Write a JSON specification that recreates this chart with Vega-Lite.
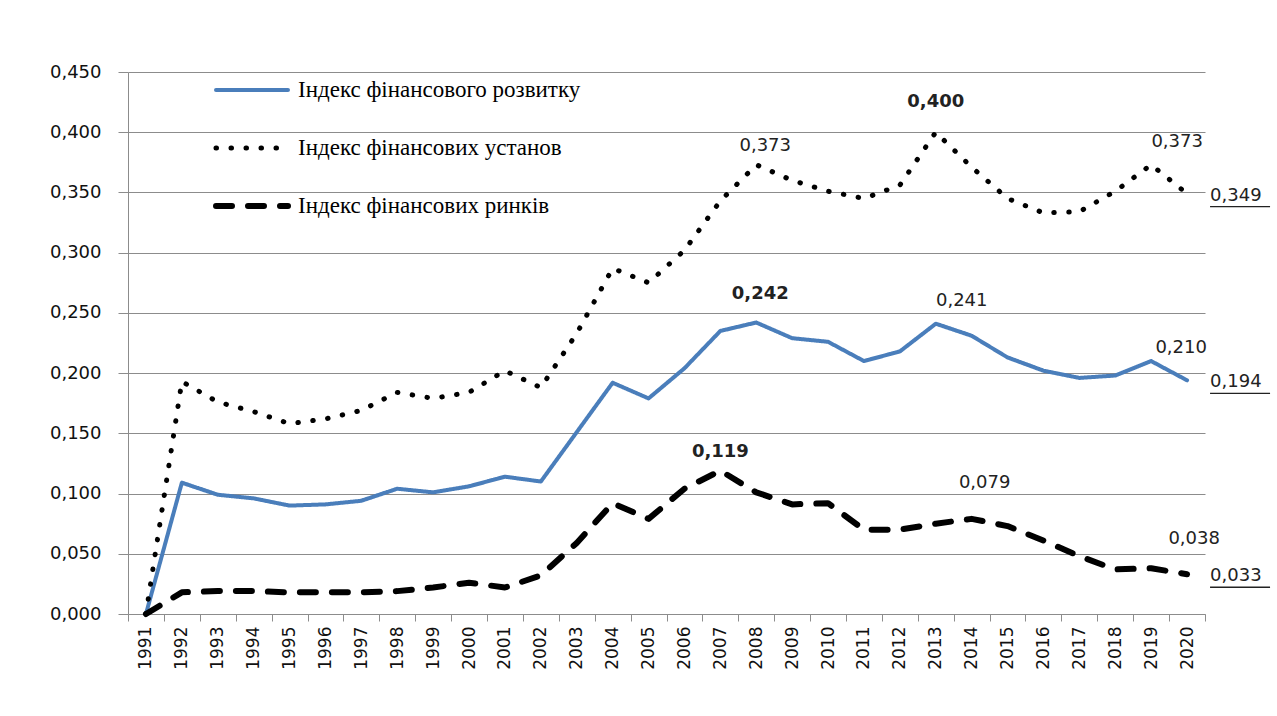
{
  "$schema": "https://vega.github.io/schema/vega-lite/v6.json",
  "width": 1077,
  "height": 542,
  "autosize": {"type": "none"},
  "padding": {"left": 128, "top": 72, "right": 72, "bottom": 102},
  "background": "white",
  "config": {
    "view": {"stroke": null},
    "locale": {"number": {"decimal": ",", "thousands": "\u00a0", "grouping": [3], "currency": ["", ""]}}
  },
  "data": {"values": [
    {"year": 1991, "series": "D", "value": 0.000},
    {"year": 1992, "series": "D", "value": 0.109},
    {"year": 1993, "series": "D", "value": 0.099},
    {"year": 1994, "series": "D", "value": 0.096},
    {"year": 1995, "series": "D", "value": 0.090},
    {"year": 1996, "series": "D", "value": 0.091},
    {"year": 1997, "series": "D", "value": 0.094},
    {"year": 1998, "series": "D", "value": 0.104},
    {"year": 1999, "series": "D", "value": 0.101},
    {"year": 2000, "series": "D", "value": 0.106},
    {"year": 2001, "series": "D", "value": 0.114},
    {"year": 2002, "series": "D", "value": 0.110},
    {"year": 2003, "series": "D", "value": 0.151},
    {"year": 2004, "series": "D", "value": 0.192},
    {"year": 2005, "series": "D", "value": 0.179},
    {"year": 2006, "series": "D", "value": 0.204},
    {"year": 2007, "series": "D", "value": 0.235},
    {"year": 2008, "series": "D", "value": 0.242},
    {"year": 2009, "series": "D", "value": 0.229},
    {"year": 2010, "series": "D", "value": 0.226},
    {"year": 2011, "series": "D", "value": 0.210},
    {"year": 2012, "series": "D", "value": 0.218},
    {"year": 2013, "series": "D", "value": 0.241},
    {"year": 2014, "series": "D", "value": 0.231},
    {"year": 2015, "series": "D", "value": 0.213},
    {"year": 2016, "series": "D", "value": 0.202},
    {"year": 2017, "series": "D", "value": 0.196},
    {"year": 2018, "series": "D", "value": 0.198},
    {"year": 2019, "series": "D", "value": 0.210},
    {"year": 2020, "series": "D", "value": 0.194},
    {"year": 1991, "series": "I", "value": 0.000},
    {"year": 1992, "series": "I", "value": 0.193},
    {"year": 1993, "series": "I", "value": 0.176},
    {"year": 1994, "series": "I", "value": 0.168},
    {"year": 1995, "series": "I", "value": 0.158},
    {"year": 1996, "series": "I", "value": 0.162},
    {"year": 1997, "series": "I", "value": 0.169},
    {"year": 1998, "series": "I", "value": 0.184},
    {"year": 1999, "series": "I", "value": 0.179},
    {"year": 2000, "series": "I", "value": 0.184},
    {"year": 2001, "series": "I", "value": 0.202},
    {"year": 2002, "series": "I", "value": 0.188},
    {"year": 2003, "series": "I", "value": 0.233},
    {"year": 2004, "series": "I", "value": 0.287},
    {"year": 2005, "series": "I", "value": 0.275},
    {"year": 2006, "series": "I", "value": 0.302},
    {"year": 2007, "series": "I", "value": 0.343},
    {"year": 2008, "series": "I", "value": 0.373},
    {"year": 2009, "series": "I", "value": 0.360},
    {"year": 2010, "series": "I", "value": 0.351},
    {"year": 2011, "series": "I", "value": 0.345},
    {"year": 2012, "series": "I", "value": 0.356},
    {"year": 2013, "series": "I", "value": 0.400},
    {"year": 2014, "series": "I", "value": 0.371},
    {"year": 2015, "series": "I", "value": 0.345},
    {"year": 2016, "series": "I", "value": 0.333},
    {"year": 2017, "series": "I", "value": 0.334},
    {"year": 2018, "series": "I", "value": 0.351},
    {"year": 2019, "series": "I", "value": 0.373},
    {"year": 2020, "series": "I", "value": 0.349},
    {"year": 1991, "series": "M", "value": 0.000},
    {"year": 1992, "series": "M", "value": 0.018},
    {"year": 1993, "series": "M", "value": 0.019},
    {"year": 1994, "series": "M", "value": 0.019},
    {"year": 1995, "series": "M", "value": 0.018},
    {"year": 1996, "series": "M", "value": 0.018},
    {"year": 1997, "series": "M", "value": 0.018},
    {"year": 1998, "series": "M", "value": 0.019},
    {"year": 1999, "series": "M", "value": 0.022},
    {"year": 2000, "series": "M", "value": 0.026},
    {"year": 2001, "series": "M", "value": 0.022},
    {"year": 2002, "series": "M", "value": 0.032},
    {"year": 2003, "series": "M", "value": 0.059},
    {"year": 2004, "series": "M", "value": 0.092},
    {"year": 2005, "series": "M", "value": 0.079},
    {"year": 2006, "series": "M", "value": 0.104},
    {"year": 2007, "series": "M", "value": 0.119},
    {"year": 2008, "series": "M", "value": 0.101},
    {"year": 2009, "series": "M", "value": 0.091},
    {"year": 2010, "series": "M", "value": 0.092},
    {"year": 2011, "series": "M", "value": 0.070},
    {"year": 2012, "series": "M", "value": 0.070},
    {"year": 2013, "series": "M", "value": 0.075},
    {"year": 2014, "series": "M", "value": 0.079},
    {"year": 2015, "series": "M", "value": 0.073},
    {"year": 2016, "series": "M", "value": 0.061},
    {"year": 2017, "series": "M", "value": 0.048},
    {"year": 2018, "series": "M", "value": 0.037},
    {"year": 2019, "series": "M", "value": 0.038},
    {"year": 2020, "series": "M", "value": 0.033}
  ]},
  "encoding": {
    "x": {
      "field": "year", "type": "ordinal", "bandPosition": 0.5,
      "scale": {"type": "band", "paddingInner": 0, "paddingOuter": 0},
      "axis": {
        "title": null, "labelAngle": 270, "tickBand": "extent", "tickSize": 7,
        "tickColor": "#8c8c8c", "domainColor": "#8c8c8c", "grid": false,
        "labelFont": "DejaVu Sans", "labelFontSize": 17, "labelColor": "#111111",
        "labelPadding": 5
      }
    },
    "y": {
      "field": "value", "type": "quantitative",
      "scale": {"domain": [0, 0.45], "nice": false, "zero": true},
      "axis": {
        "title": null, "values": [0, 0.05, 0.1, 0.15, 0.2, 0.25, 0.3, 0.35, 0.4, 0.45],
        "format": ".3f", "grid": true, "gridColor": "#8c8c8c", "gridWidth": 1,
        "tickSize": 10, "tickColor": "#8c8c8c", "domainColor": "#8c8c8c",
        "labelFont": "DejaVu Sans", "labelFontSize": 18, "labelColor": "#111111",
        "labelPadding": 17
      }
    }
  },
  "layer": [
    {
      "mark": {"type": "line", "strokeCap": "round", "strokeJoin": "round"},
      "encoding": {
        "color": {
          "field": "series", "type": "nominal",
          "scale": {"domain": ["D", "I", "M"], "range": ["#4A7EBB", "#000000", "#000000"]},
          "legend": {
            "title": null, "orient": "none", "legendX": 85, "legendY": -11,
            "symbolType": "stroke", "symbolSize": 5184, "symbolStrokeWidth": 5.5,
            "clipHeight": 58, "rowPadding": 0, "padding": 0, "labelOffset": 7,
            "labelFont": "Liberation Serif", "labelFontSize": 23, "labelColor": "#000000",
            "labelLimit": 500,
            "labelExpr": "datum.value == 'D' ? 'Індекс фінансового розвитку' : datum.value == 'I' ? 'Індекс фінансових установ' : 'Індекс фінансових ринків'",
            "encode": {"symbols": {"update": {"strokeCap": {"value": "round"}}}}
          }
        },
        "strokeDash": {
          "field": "series", "type": "nominal",
          "scale": {"domain": ["D", "I", "M"], "range": [[1, 0], [0.5, 14.5], [16, 16]]},
          "legend": {
            "title": null, "orient": "none", "legendX": 85, "legendY": -11,
            "symbolType": "stroke", "symbolSize": 5184, "symbolStrokeWidth": 5.5,
            "clipHeight": 58, "rowPadding": 0, "padding": 0, "labelOffset": 7,
            "labelFont": "Liberation Serif", "labelFontSize": 23, "labelColor": "#000000",
            "labelLimit": 500,
            "labelExpr": "datum.value == 'D' ? 'Індекс фінансового розвитку' : datum.value == 'I' ? 'Індекс фінансових установ' : 'Індекс фінансових ринків'",
            "encode": {"symbols": {"update": {"strokeCap": {"value": "round"}}}}
          }
        },
        "strokeWidth": {
          "field": "series", "type": "nominal",
          "scale": {"domain": ["D", "I", "M"], "range": [4, 6, 6]},
          "legend": null
        }
      }
    },
    {
      "transform": [{"filter": "(datum.series == 'I' && datum.year == 2008)"}],
      "mark": {"type": "text", "font": "DejaVu Sans", "fontSize": 18, "color": "#222222", "dx": 9, "dy": -19},
      "encoding": {"text": {"field": "value", "type": "quantitative", "format": ".3f"}}
    },
    {
      "transform": [{"filter": "(datum.series == 'I' && datum.year == 2013)"}],
      "mark": {"type": "text", "font": "DejaVu Sans", "fontSize": 18, "fontWeight": "bold", "color": "#222222", "dx": 0, "dy": -30},
      "encoding": {"text": {"field": "value", "type": "quantitative", "format": ".3f"}}
    },
    {
      "transform": [{"filter": "(datum.series == 'I' && datum.year == 2019)"}],
      "mark": {"type": "text", "font": "DejaVu Sans", "fontSize": 18, "color": "#222222", "dx": 26, "dy": -23},
      "encoding": {"text": {"field": "value", "type": "quantitative", "format": ".3f"}}
    },
    {
      "transform": [{"filter": "(datum.series == 'D' && datum.year == 2008)"}],
      "mark": {"type": "text", "font": "DejaVu Sans", "fontSize": 18, "fontWeight": "bold", "color": "#222222", "dx": 4, "dy": -29},
      "encoding": {"text": {"field": "value", "type": "quantitative", "format": ".3f"}}
    },
    {
      "transform": [{"filter": "(datum.series == 'D' && datum.year == 2013)"}],
      "mark": {"type": "text", "font": "DejaVu Sans", "fontSize": 18, "color": "#222222", "dx": 26, "dy": -23},
      "encoding": {"text": {"field": "value", "type": "quantitative", "format": ".3f"}}
    },
    {
      "transform": [{"filter": "(datum.series == 'D' && datum.year == 2019)"}],
      "mark": {"type": "text", "font": "DejaVu Sans", "fontSize": 18, "color": "#222222", "dx": 30, "dy": -13},
      "encoding": {"text": {"field": "value", "type": "quantitative", "format": ".3f"}}
    },
    {
      "transform": [{"filter": "(datum.series == 'M' && datum.year == 2007)"}],
      "mark": {"type": "text", "font": "DejaVu Sans", "fontSize": 18, "fontWeight": "bold", "color": "#222222", "dx": 0, "dy": -19},
      "encoding": {"text": {"field": "value", "type": "quantitative", "format": ".3f"}}
    },
    {
      "transform": [{"filter": "(datum.series == 'M' && datum.year == 2014)"}],
      "mark": {"type": "text", "font": "DejaVu Sans", "fontSize": 18, "color": "#222222", "dx": 13, "dy": -36},
      "encoding": {"text": {"field": "value", "type": "quantitative", "format": ".3f"}}
    },
    {
      "transform": [{"filter": "(datum.series == 'M' && datum.year == 2019)"}],
      "mark": {"type": "text", "font": "DejaVu Sans", "fontSize": 18, "color": "#222222", "dx": 43, "dy": -29},
      "encoding": {"text": {"field": "value", "type": "quantitative", "format": ".3f"}}
    },
    {
      "transform": [{"filter": "datum.year == 2020"}],
      "mark": {"type": "text", "font": "DejaVu Sans", "fontSize": 18, "color": "#222222", "align": "left", "dx": 23, "dy": 2},
      "encoding": {"text": {"field": "value", "type": "quantitative", "format": ".3f"}}
    },
    {
      "transform": [{"filter": "datum.year == 2020"}],
      "mark": {"type": "tick", "color": "#222222", "size": 60, "thickness": 1.3, "xOffset": 53, "yOffset": 13, "opacity": 1},
      "encoding": {}
    }
  ]
}
